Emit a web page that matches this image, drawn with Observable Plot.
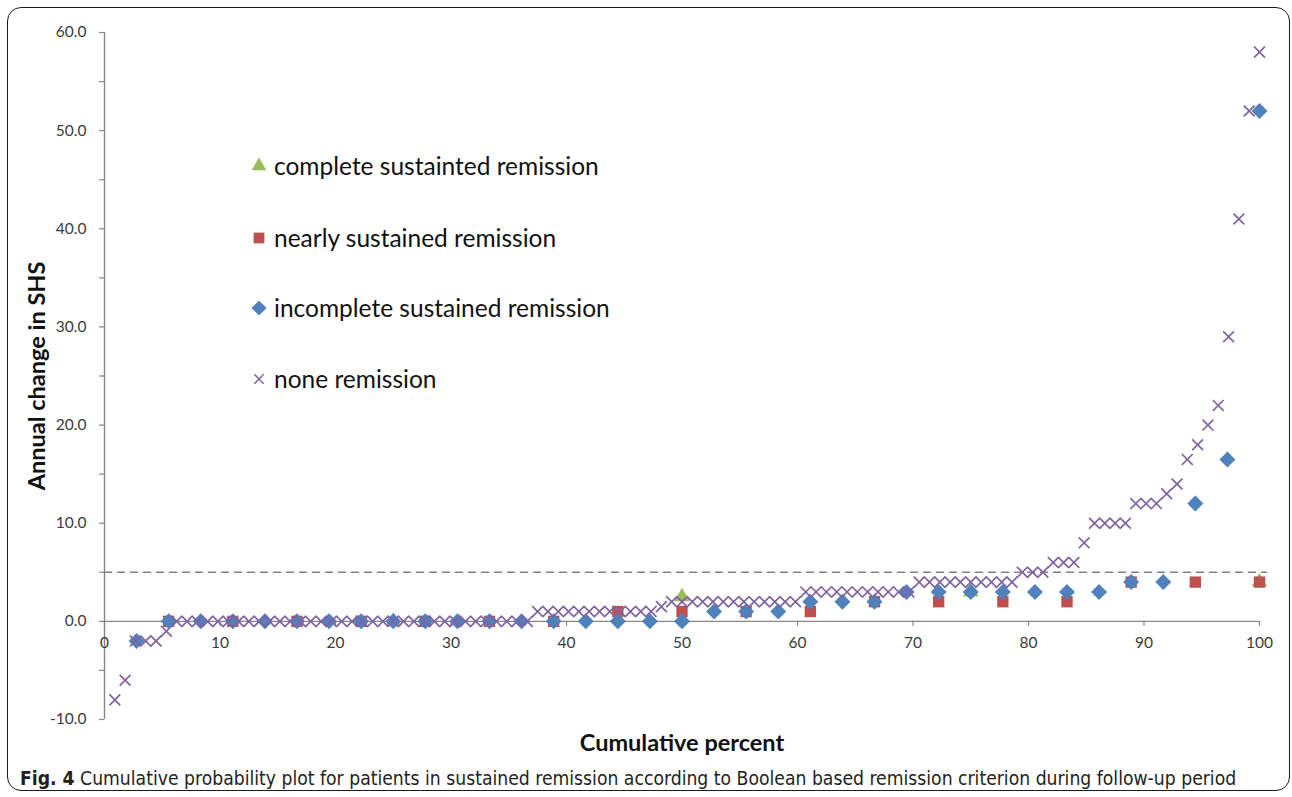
<!DOCTYPE html>
<html>
<head>
<meta charset="utf-8">
<script src="https://cdn.jsdelivr.net/npm/d3@7"></script>
<script src="https://cdn.jsdelivr.net/npm/@observablehq/plot@0.6"></script>
<style>
  body { margin: 0; background: #fff; }
  #fig { position: relative; width: 1292px; height: 797px; overflow: hidden; background: #fff; }
  #frame { position: absolute; left: 7px; top: 7px; width: 1283px; height: 784px;
           border: 1.6px solid #1a1a1a; border-radius: 14px; box-sizing: border-box; }
  #chart { position: absolute; left: 0; top: 0; }
  #legend { position: absolute; left: 0; top: 0; pointer-events: none; }
  #caption { position: absolute; left: 0; top: 752px; }
</style>
</head>
<body>
<div id="fig">
  <div id="frame"></div>
  <div id="chart"></div>
  <svg id="legend" width="700" height="420"></svg>
  <svg id="caption" width="1292" height="40"></svg>
</div>
<script>
// Annual change in SHS, each group sorted ascending (one value per patient)
const completeValues = [0, 2.5, 3, 4];
const nearlyValues = [0, 0, 0, 0, 0, 0, 0, 1, 1, 1, 1, 2, 2, 2, 2, 4, 4, 4];
const incompleteValues = [
  -2, 0, 0, 0, 0, 0, 0, 0, 0, 0, 0, 0, 0, 0, 0, 0, 0, 0,
  1, 1, 1, 2, 2, 2, 3, 3, 3, 3, 3, 3, 3, 4, 4, 12, 16.5, 52
];
const noneValues = [
  -8, -6, -2, -2, -2, -1,
  0, 0, 0, 0, 0, 0, 0, 0, 0, 0, 0, 0, 0, 0, 0, 0, 0, 0, 0, 0, 0, 0, 0, 0, 0, 0, 0, 0, 0, 0, 0, 0, 0, 0, 0,
  1, 1, 1, 1, 1, 1, 1, 1, 1, 1, 1, 1,
  1.5,
  2, 2, 2, 2, 2, 2, 2, 2, 2, 2, 2, 2, 2,
  3, 3, 3, 3, 3, 3, 3, 3, 3, 3, 3,
  4, 4, 4, 4, 4, 4, 4, 4, 4, 4,
  5, 5, 5, 6, 6, 6, 8, 10, 10, 10, 10, 12, 12, 12, 13, 14, 16.5, 18, 20, 22, 29, 41, 52, 58
];

const seriesNames = [
  "complete sustainted remission",
  "nearly sustained remission",
  "incomplete sustained remission",
  "none remission"
];
const seriesColors = ["#9BBB59", "#C0504D", "#4F81BD", "#8064A2"];
const seriesSymbols = ["triangle", "square", "diamond2", "times"];
const seriesRadius = [5.8, 6.4, 7.2, 5.0];

const yMajorTicks = [-10, 0, 10, 20, 30, 40, 50, 60];
const yMinorTicks = [-5, 5, 15, 25, 35, 45, 55];
const xTicks = [0, 10, 20, 30, 40, 50, 60, 70, 80, 90, 100];
const referenceLevel = 5;

const xTitle = "Cumulative percent";
const yTitle = "Annual change in SHS";
const captionBold = "Fig. 4";
const captionText = " Cumulative probability plot for patients in sustained remission according to Boolean based remission criterion during follow-up period";

// cumulative percent of each patient within its own group
function cumulative(values, k) {
  const n = values.length;
  return values.map((v, i) => ({series: k, pct: (i + 1) / n * 100, value: v}));
}
const groups = [completeValues, nearlyValues, incompleteValues, noneValues];
const rows = groups.map((vals, k) => cumulative(vals, k));

const font = "Lato, 'Open Sans', sans-serif";
const axisGray = "#868686";

const dotMarks = rows.map((data, k) => {
  const sym = seriesSymbols[k];
  const stroked = sym === "times";
  return Plot.dot(data, {
    x: "pct", y: "value",
    symbol: () => sym,
    r: seriesRadius[k],
    fill: stroked ? "none" : seriesColors[k],
    stroke: stroked ? seriesColors[k] : "none",
    strokeWidth: stroked ? 1.7 : 0
  });
});

const chart = Plot.plot({
  width: 1292,
  height: 760,
  marginLeft: 104,
  marginRight: 33,
  marginTop: 32,
  marginBottom: 41,
  x: {domain: [0, 100], axis: null},
  y: {domain: [-10, 60], axis: null},
  symbol: {type: "identity"},
  style: {fontFamily: font, background: "transparent", overflow: "visible"},
  marks: [
    // dashed reference level
    Plot.ruleY([referenceLevel], {stroke: "#808080", strokeWidth: 1.5, strokeDasharray: "8,5", insetRight: -8}),
    // value axis: line, tick marks and labels
    Plot.ruleX([0], {stroke: axisGray, strokeWidth: 1.4}),
    Plot.ruleY(yMinorTicks, {y: d => d, x1: () => 0, x2: () => 0, insetLeft: -5, stroke: axisGray, strokeWidth: 1.2}),
    Plot.ruleY(yMajorTicks, {y: d => d, x1: () => 0, x2: () => 0, insetLeft: -5, stroke: axisGray, strokeWidth: 1.2}),
    Plot.text(yMajorTicks, {y: d => d, x: () => 0, dx: -18, textAnchor: "end", text: d => d.toFixed(1),
      fontSize: 15.5, fill: "#3a3a3a"}),
    // percent axis runs along zero
    Plot.ruleY([0], {stroke: axisGray, strokeWidth: 1.4}),
    Plot.ruleX(xTicks, {x: d => d, y1: () => 0, y2: () => 0, insetBottom: -5, stroke: axisGray, strokeWidth: 1.2}),
    Plot.text(xTicks, {x: d => d, y: () => 0, dy: 22, text: d => String(d), fontSize: 15.5, fill: "#3a3a3a"}),
    ...dotMarks,
    Plot.text([xTitle], {frameAnchor: "bottom", lineAnchor: "middle", dy: 24, text: d => d,
      fontSize: 23.5, fontWeight: "bold", fill: "#111"}),
    Plot.text([yTitle], {frameAnchor: "left", textAnchor: "middle", lineAnchor: "middle", dx: -67, rotate: -90,
      text: d => d, fontSize: 23.5, fontWeight: "bold", fill: "#111"})
  ]
});
document.getElementById("chart").appendChild(chart);

// legend inside the plotting area
const symbolTypes = {triangle: d3.symbolTriangle, square: d3.symbolSquare, diamond2: d3.symbolDiamond2, times: d3.symbolTimes};
const legend = d3.select("#legend");
const legendRowY = [166, 238, 308, 379];
seriesNames.forEach((name, k) => {
  const g = legend.append("g").attr("transform", `translate(259,${legendRowY[k]})`);
  const sym = seriesSymbols[k];
  const stroked = sym === "times";
  g.append("path")
    .attr("d", d3.symbol(symbolTypes[sym], Math.PI * seriesRadius[k] ** 2 * (stroked ? 0.75 : 0.9))())
    .attr("fill", stroked ? "none" : seriesColors[k])
    .attr("stroke", stroked ? seriesColors[k] : "none")
    .attr("stroke-width", stroked ? 1.5 : 0);
  legend.append("text")
    .attr("x", 274).attr("y", legendRowY[k])
    .attr("dy", "0.35em")
    .attr("font-family", font)
    .attr("font-size", 24.5)
    .attr("fill", "#111")
    .text(name);
});

// figure caption, sized so the line spans the full text width
const captionWidth = 1217;
const cap = d3.select("#caption");
const capText = cap.append("text")
  .attr("x", 20).attr("y", 33)
  .attr("font-family", "'Liberation Sans Narrow', 'DejaVu Sans Condensed', Roboto, sans-serif")
  .attr("font-size", 20)
  .attr("fill", "#231f20");
capText.append("tspan").attr("font-weight", "bold").text(captionBold);
capText.append("tspan").text(captionText);
const natural = capText.node().getComputedTextLength();
if (natural > 0) capText.attr("font-size", Math.min(22, 20 * captionWidth / natural));
</script>
</body>
</html>
